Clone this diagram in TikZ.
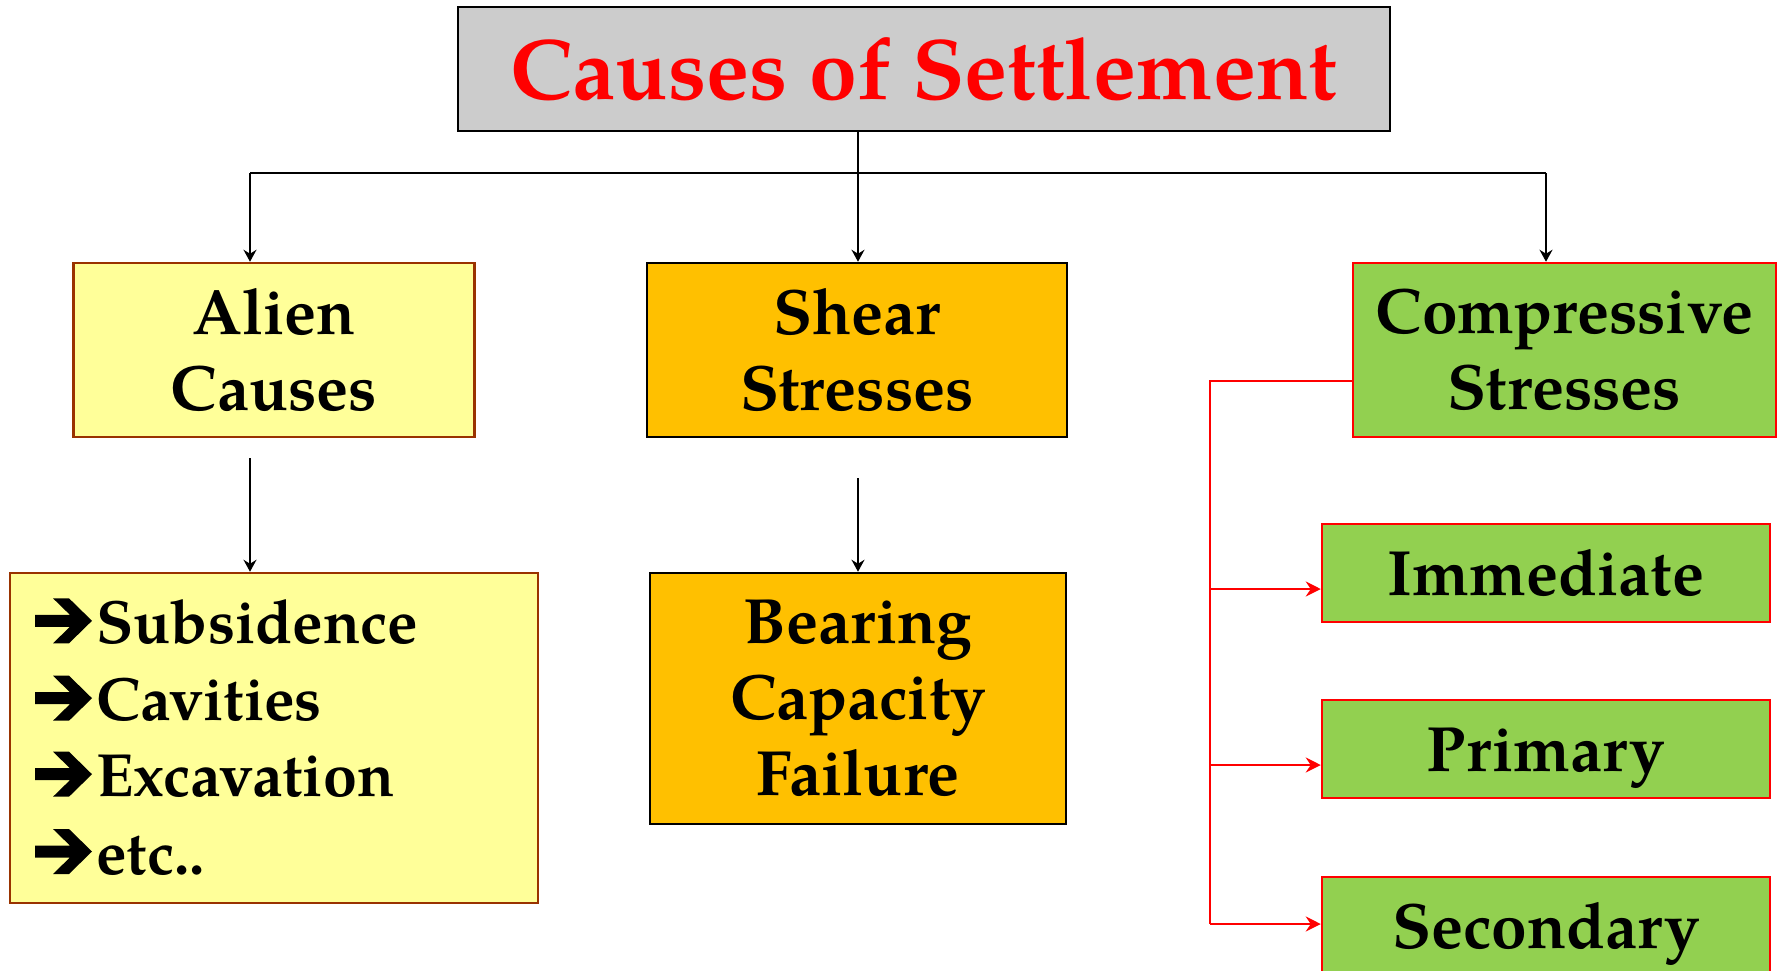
\documentclass[tikz,border=0pt]{standalone}
\usepackage{fontspec}
\setmainfont{TeX Gyre Pagella}
\usetikzlibrary{arrows.meta}
\definecolor{titlegray}{HTML}{CCCCCC}
\definecolor{lightyel}{HTML}{FFFF99}
\definecolor{brownred}{HTML}{993300}
\definecolor{amber}{HTML}{FFC000}
\definecolor{leafgreen}{HTML}{92D050}
\definecolor{purered}{HTML}{FF0000}
\tikzset{
  box/.style={draw, line width=2.5pt, inner sep=0pt, align=center,
    font=\fontsize{64}{76}\selectfont\bfseries},
  yelbox/.style={box, fill=lightyel, draw=brownred},
  ambbox/.style={box, fill=amber, draw=black},
  grnbox/.style={box, fill=leafgreen, draw=purered},
  onebox/.style={grnbox, minimum width=448pt, minimum height=98pt, text height=44pt, text depth=0pt},
  itemtxt/.style={anchor=base west, inner sep=0pt, font=\fontsize{61}{76}\selectfont\bfseries},
  blk/.style={line width=2pt, draw=black},
  blkarr/.style={blk, -{Stealth[length=12pt,width=13pt,inset=4pt]}},
  redln/.style={line width=2pt, draw=purered},
  redarr/.style={redln, -{Stealth[length=15pt,width=15pt,inset=5pt]}},
  harr/.pic={\fill[black, yscale=-1] (0,16.5) -- (34.9,16.5) -- (18,0) -- (34,0) -- (57,22.5) -- (34,45) -- (18,45) -- (34.9,28.5) -- (0,28.5) -- cycle;}
}
\begin{document}
\begin{tikzpicture}[x=1pt,y=-1pt]
\useasboundingbox (0,0) rectangle (1783,970);
% title
\node[box, fill=titlegray, draw=black, minimum width=932pt, minimum height=124pt,
  text=purered, font=\fontsize{86}{100}\selectfont\bfseries] (title) at (924,69) {Causes of Settlement};
% level 1
\node[yelbox, minimum width=401pt, minimum height=174pt] (alien) at (274,350) {Alien\\Causes};
\node[ambbox, minimum width=420pt, minimum height=174pt] (shear) at (857,350) {Shear\\Stresses};
\node[grnbox, minimum width=423pt, minimum height=174pt] (comp) at (1564.5,350) {Compressive\\Stresses};
% level 2
\node[yelbox, minimum width=528pt, minimum height=330pt] (items) at (274,738) {};
\pic at (35,643.3) {harr};
\node[itemtxt] (i1) at (96,643.3) {Subsidence};
\pic at (35,720.7) {harr};
\node[itemtxt] (i2) at (96,720.7) {Cavities};
\pic at (35,796.7) {harr};
\node[itemtxt] (i3) at (96,796.7) {Excavation};
\pic at (35,874) {harr};
\node[itemtxt] (i4) at (96,874) {etc..};
\node[ambbox, minimum width=416pt, minimum height=251pt] (bearing) at (858,698.5) {Bearing\\Capacity\\Failure};
\node[onebox] (imm) at (1546,573) {Immediate};
\node[onebox] (prim) at (1546,749) {Primary};
\node[onebox] (sec) at (1546,926) {Secondary};
% black connectors
\coordinate (bl) at (250,173);
\coordinate (br) at (1546,173);
\coordinate (tc) at (858,131);
\draw[blk] (bl) -- (br);
\draw[blkarr] (tc) -- (tc |- shear.north);
\draw[blkarr] (bl) -- (bl |- alien.north);
\draw[blkarr] (br) -- (br |- comp.north);
\coordinate (a1) at (250,458);
\draw[blkarr] (a1) -- (a1 |- items.north);
\coordinate (s1) at (858,478);
\draw[blkarr] (s1) -- (s1 |- bearing.north);
% red connectors
\coordinate (rj) at (1209.5,381);
\coordinate (r1) at (1209.5,589);
\coordinate (r2) at (1209.5,765);
\coordinate (r3) at (1209.5,924);
\draw[redln] (rj -| comp.west) -- (rj) -- (r3);
\draw[redarr] (r1) -- (r1 -| imm.west);
\draw[redarr] (r2) -- (r2 -| prim.west);
\draw[redarr] (r3) -- (r3 -| sec.west);
\end{tikzpicture}
\end{document}
